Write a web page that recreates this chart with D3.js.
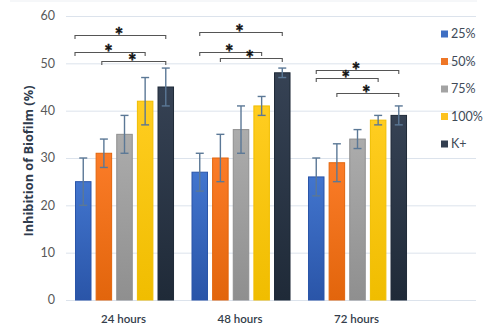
<!DOCTYPE html>
<html><head><meta charset="utf-8">
<script src="https://cdn.jsdelivr.net/npm/d3@7"></script>
<style>
html,body{margin:0;padding:0;background:#fff;}
svg{display:block;font-family:Lato,"Open Sans",sans-serif;}
</style></head>
<body>
<svg id="chart" width="498" height="335"></svg>
<script>
const groups = ["24 hours", "48 hours", "72 hours"];
const series = ["25%", "50%", "75%", "100%", "K+"];
const values = [
  [25, 31, 35, 42, 45],
  [27, 30, 36, 41, 48],
  [26, 29, 34, 38, 39]
];
const errors = [
  [5, 3, 4, 5, 4],
  [4, 5, 5, 2, 1],
  [4, 4, 2, 1, 2]
];
// significance brackets: [group, fromBar, toBar, level]
const brackets = [
  [0, -0.4, 4, 56], [0, -0.4, 3, 52.5], [0, 0.9, 4, 50.4],
  [1, 0, 4, 56.7], [1, 0, 3, 52.5], [1, 1, 4, 51.1],
  [2, 0, 4, 48.6], [2, 0, 3, 46.8], [2, 1, 4, 43.8]
];
const yTicks = [0, 10, 20, 30, 40, 50, 60];
const colors = ["#3f6fc3", "#ee7626", "#a3a3a3", "#fdc21e", "#333f50"];
const colorsDark = ["#2a55a8", "#e2650c", "#8f8f8f", "#f0bd00", "#1f2a38"];

const svg = d3.select("#chart");
const y = d3.scaleLinear().domain([0, 60]).range([300, 16]);
const x0 = d3.scaleBand().domain(groups).range([66.26, 415.76]).paddingInner(0.15).paddingOuter(0.075);
const x1 = d3.scaleBand().domain(series).range([0, x0.bandwidth()]).paddingInner(0.2).paddingOuter(0);

const defs = svg.append("defs");
series.forEach((s, i) => {
  const g = defs.append("linearGradient").attr("id", "g" + i).attr("x1", 0).attr("x2", 0).attr("y1", 0).attr("y2", 1);
  g.append("stop").attr("offset", "0%").attr("stop-color", d3.color(colors[i]).brighter(0.15));
  g.append("stop").attr("offset", "100%").attr("stop-color", colorsDark[i]);
});

// frame line at top
svg.append("line").attr("x1", 10).attr("x2", 477).attr("y1", 1).attr("y2", 1).attr("stroke", "#eceff3").attr("stroke-width", 1);

// gridlines
svg.append("g").selectAll("line").data(yTicks).join("line")
  .attr("x1", 66).attr("x2", 476)
  .attr("y1", d => y(d) + 0.5).attr("y2", d => y(d) + 0.5)
  .attr("stroke", "#dce3ec").attr("stroke-width", 1);

// y tick labels
svg.append("g").selectAll("text").data(yTicks).join("text")
  .attr("x", 55).attr("y", d => y(d)).attr("dy", "0.35em")
  .attr("text-anchor", "end").attr("font-size", 12.5).attr("fill", "#595959")
  .text(d => d);

// y label
svg.append("text")
  .attr("transform", "translate(33,161) rotate(-90)")
  .attr("text-anchor", "middle").attr("font-size", 13).attr("font-weight", "bold")
  .attr("font-family", "'Open Sans', sans-serif")
  .attr("textLength", 151).attr("lengthAdjust", "spacingAndGlyphs")
  .attr("fill", "#2f3b4c").text("Inhibition of Biofilm (%)");

// bars
const gg = svg.append("g").selectAll("g").data(groups).join("g")
  .attr("transform", d => `translate(${x0(d)},0)`);
gg.selectAll("rect").data((d, gi) => values[gi].map((v, i) => ({ v, i, e: errors[gi][i] }))).join("rect")
  .attr("x", d => x1(series[d.i]) + 0.5)
  .attr("width", x1.bandwidth() - 1)
  .attr("y", d => y(d.v))
  .attr("height", d => y(0) - y(d.v))
  .attr("fill", d => `url(#g${d.i})`)
  .attr("stroke", d => colorsDark[d.i]).attr("stroke-width", 1);

// error bars
const eb = gg.selectAll("g.eb").data((d, gi) => values[gi].map((v, i) => ({ v, i, e: errors[gi][i] }))).join("g").attr("class", "eb");
eb.append("line")
  .attr("x1", d => x1(series[d.i]) + x1.bandwidth() / 2).attr("x2", d => x1(series[d.i]) + x1.bandwidth() / 2)
  .attr("y1", d => y(d.v + d.e)).attr("y2", d => y(d.v - d.e))
  .attr("stroke", "#5b7896").attr("stroke-width", 1.4);
[1, -1].forEach(sg => {
  eb.append("line")
    .attr("x1", d => x1(series[d.i]) + x1.bandwidth() / 2 - 4).attr("x2", d => x1(series[d.i]) + x1.bandwidth() / 2 + 4)
    .attr("y1", d => y(d.v + sg * d.e)).attr("y2", d => y(d.v + sg * d.e))
    .attr("stroke", "#5b7896").attr("stroke-width", 1.4);
});

// brackets
const cx = (gi, b) => x0(groups[gi]) + x1.step() * b + x1.bandwidth() / 2;
const br = svg.append("g").selectAll("g").data(brackets).join("g");
br.append("path")
  .attr("d", d => {
    const a = cx(d[0], d[1]), b = cx(d[0], d[2]), yy = Math.round(y(d[3])) + 0.5;
    return `M${a},${yy + 3.5}V${yy}H${b}V${yy + 3.5}`;
  })
  .attr("fill", "none").attr("stroke", "#555").attr("stroke-width", 1.1);
br.append("text")
  .attr("x", d => (cx(d[0], d[1]) + cx(d[0], d[2])) / 2 - 1.5)
  .attr("y", d => y(d[3]) + 8)
  .attr("text-anchor", "middle").attr("font-size", 20).attr("font-weight", "900")
  .attr("fill", "#111").attr("stroke", "#111").attr("stroke-width", 0.4).text("*");

// x labels
svg.append("g").selectAll("text").data(groups).join("text")
  .attr("x", d => x0(d) + x0.bandwidth() / 2 - 1).attr("y", 323)
  .attr("text-anchor", "middle").attr("font-size", 11.5).attr("font-weight", 600)
  .attr("fill", "#333d4a").text(d => d);

// legend
const lg = svg.append("g").selectAll("g").data(series).join("g")
  .attr("transform", (d, i) => `translate(441,${34 + i * 27.5})`);
lg.append("rect").attr("x", 0).attr("y", -3.5).attr("width", 7).attr("height", 7)
  .attr("fill", (d, i) => colors[i]);
lg.append("text").attr("x", 10).attr("y", 0).attr("dy", "0.35em")
  .attr("font-size", 12.5).attr("fill", "#404a58").text(d => d);
</script>
</body></html>
